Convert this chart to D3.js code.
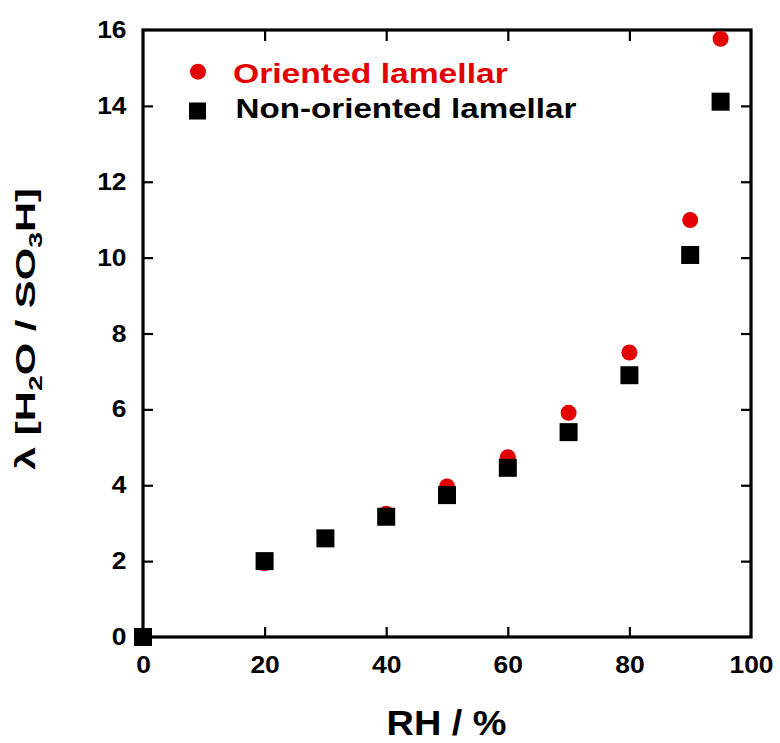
<!DOCTYPE html>
<html>
<head>
<meta charset="utf-8">
<script src="https://cdn.jsdelivr.net/npm/d3@7"></script>
<style>
  html, body { margin: 0; padding: 0; background: #fff; }
  svg { display: block; font-family: "Liberation Sans", Arial, sans-serif; }
</style>
</head>
<body>
<svg id="chart" width="780" height="743"></svg>
<script>
// ---- data ----
const rh = [0, 20, 30, 40, 50, 60, 70, 80, 90, 95];
const orientedLamellar = [0, 1.95, 2.6, 3.25, 3.97, 4.74, 5.91, 7.5, 10.99, 15.77];
const nonOrientedLamellar = [0, 2.0, 2.6, 3.17, 3.74, 4.46, 5.4, 6.9, 10.07, 14.11];
const xTicks = [0, 20, 40, 60, 80, 100];
const yTicks = [0, 2, 4, 6, 8, 10, 12, 14, 16];
const seriesNames = ["Oriented lamellar", "Non-oriented lamellar"];
const xTitle = "RH / %";

const svg = d3.select("#chart");
const L = 143, R = 751, T = 30, B = 637;
const x = d3.scaleLinear().domain([0, 100]).range([L, R]);
const y = d3.scaleLinear().domain([0, 16]).range([B, T]);
const red = "#e30000";
const tickStretch = 1.1;

function stretchTo(sel, width) {
  const w = sel.node().getComputedTextLength();
  return width / w;
}

// axes
const gx = svg.append("g").attr("transform", `translate(0,${B})`)
  .call(d3.axisBottom(x).tickValues(xTicks).tickSizeInner(-10).tickSizeOuter(0).tickFormat(d3.format("d")));
const gxTop = svg.append("g").attr("transform", `translate(0,${T})`)
  .call(d3.axisTop(x).tickValues(xTicks.slice(1, -1)).tickSizeInner(-11).tickSizeOuter(0).tickFormat(""));
const gy = svg.append("g").attr("transform", `translate(${L},0)`)
  .call(d3.axisLeft(y).tickValues(yTicks).tickSizeInner(-10).tickSizeOuter(0).tickFormat(d3.format("d")));
const gyRight = svg.append("g").attr("transform", `translate(${R},0)`)
  .call(d3.axisRight(y).tickValues(yTicks.slice(1, -1)).tickSizeInner(-10).tickSizeOuter(0).tickFormat(""));

[gx, gxTop, gy, gyRight].forEach(g => {
  g.select(".domain").remove();
  g.selectAll(".tick line").attr("stroke", "#000").attr("stroke-width", 2.2);
});
gx.selectAll(".tick").filter(d => d === 0 || d === 100).select("line").remove();
gy.selectAll(".tick").filter(d => d === 0 || d === 16).select("line").remove();

gx.selectAll(".tick text")
  .attr("y", 0).attr("dy", 0).attr("x", 0)
  .attr("transform", `translate(0,35.5) scale(${tickStretch},1)`)
  .attr("text-anchor", "middle")
  .attr("font-size", 24).attr("font-weight", "bold").attr("fill", "#000");
gy.selectAll(".tick text")
  .attr("x", 0).attr("dy", 0)
  .attr("transform", `translate(-16.5,7.5) scale(${tickStretch},1)`)
  .attr("text-anchor", "end")
  .attr("font-size", 24).attr("font-weight", "bold").attr("fill", "#000");

// frame
svg.append("rect")
  .attr("x", L).attr("y", T).attr("width", R - L).attr("height", B - T)
  .attr("fill", "none").attr("stroke", "#000").attr("stroke-width", 3.2);

// data marks
const ptsO = rh.map((d, i) => ({ x: d, y: orientedLamellar[i] }));
const ptsN = rh.map((d, i) => ({ x: d, y: nonOrientedLamellar[i] }));
svg.append("g").selectAll("circle").data(ptsO).join("circle")
  .attr("cx", d => x(d.x)).attr("cy", d => y(d.y)).attr("r", 8)
  .attr("fill", red);
svg.append("g").selectAll("rect").data(ptsN).join("rect")
  .attr("x", d => x(d.x) - 9).attr("y", d => y(d.y) - 9)
  .attr("width", 18).attr("height", 18)
  .attr("fill", "#000");

// legend
svg.append("circle").attr("cx", 198).attr("cy", 71.7).attr("r", 8).attr("fill", red);
svg.append("rect").attr("x", 189).attr("y", 102.5).attr("width", 17).attr("height", 17).attr("fill", "#000");
const l1 = svg.append("text").text(seriesNames[0])
  .attr("font-size", 28).attr("font-weight", "bold").attr("fill", red);
l1.attr("transform", `translate(233,83.3) scale(${stretchTo(l1, 275)},1)`);
const l2 = svg.append("text").text(seriesNames[1])
  .attr("font-size", 27).attr("font-weight", "bold").attr("fill", "#000");
l2.attr("transform", `translate(235.5,117.5) scale(${stretchTo(l2, 341)},1)`);

// x title
const xt = svg.append("text").text(xTitle)
  .attr("font-size", 32).attr("font-weight", "bold").attr("text-anchor", "middle").attr("fill", "#000");
xt.attr("transform", `translate(446.5,735) scale(${stretchTo(xt, 120)},1.1)`);

// y title: λ [H2O / SO3H]
const yt = svg.append("text").attr("font-size", 28).attr("font-weight", "bold")
  .attr("text-anchor", "middle").attr("fill", "#000");
yt.append("tspan").text("λ [H");
yt.append("tspan").text("2").attr("font-size", 19).attr("dy", 7);
yt.append("tspan").text("O / SO").attr("dy", -7);
yt.append("tspan").text("3").attr("font-size", 19).attr("dy", 7);
yt.append("tspan").text("H]").attr("dy", -7);
const ytw = yt.node().getComputedTextLength();
yt.attr("transform", `translate(35,329) rotate(-90) scale(${282 / ytw},1)`);
</script>
</body>
</html>
